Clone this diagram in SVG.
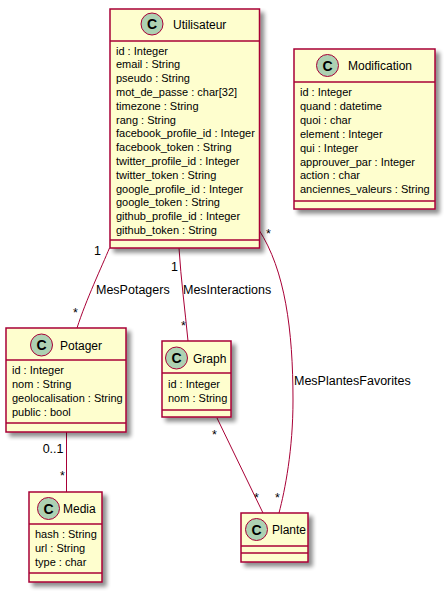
<svg xmlns="http://www.w3.org/2000/svg" width="445" height="591" viewBox="0 0 445 591">
<style>
.box{fill:#FEFECE;stroke:#A80036;stroke-width:1.5}
.sep{stroke:#A80036;stroke-width:1.5}
.circ{fill:#ADD1B2;stroke:#A80036;stroke-width:1}
.c{font-family:"Liberation Sans",Arial,sans-serif;font-size:14px;font-weight:bold;fill:#000;text-anchor:middle}
.title{font-family:"Liberation Sans",Arial,sans-serif;font-size:12px;fill:#000}
.attr{font-family:"Liberation Sans",Arial,sans-serif;font-size:11px;fill:#000}
.lbl{font-family:"Liberation Sans",Arial,sans-serif;font-size:12.5px;fill:#000}
.link{fill:none;stroke:#A80036;stroke-width:1}
</style>
<defs>
<filter id="sh" x="-10%" y="-10%" width="130%" height="130%">
<feGaussianBlur in="SourceAlpha" stdDeviation="2"/>
<feOffset dx="4" dy="4" result="b"/>
<feComponentTransfer><feFuncA type="linear" slope="0.45"/></feComponentTransfer>
<feMerge><feMergeNode/><feMergeNode in="SourceGraphic"/></feMerge>
</filter>
</defs>
<g id="connectors">
<path class="link" d="M109.5,248 C102,266 86,300 77,328"/>
<path class="link" d="M179,248 C181,280 185,310 188,341"/>
<path class="link" d="M259,230 C285,270 293,330 293,400 C293,450 285,490 279,513"/>
<path class="link" d="M66.5,432 L66.5,492"/>
<path class="link" d="M217,418 L263,513"/>
<text class="lbl" x="94" y="255">1</text>
<text class="lbl" x="96" y="294">MesPotagers</text>
<text class="lbl" x="73" y="317">*</text>
<text class="lbl" x="171" y="271">1</text>
<text class="lbl" x="183" y="294">MesInteractions</text>
<text class="lbl" x="181" y="330">*</text>
<text class="lbl" x="266" y="238">*</text>
<text class="lbl" x="294" y="385">MesPlantesFavorites</text>
<text class="lbl" x="275" y="502">*</text>
<text class="lbl" x="63.5" y="453" text-anchor="end">0..1</text>
<text class="lbl" x="60" y="480">*</text>
<text class="lbl" x="212" y="439">*</text>
<text class="lbl" x="254" y="502">*</text>
</g>
<g id="Utilisateur">
<rect class="box" x="110" y="9" width="149.5" height="239" filter="url(#sh)"/>
<line class="sep" x1="110" y1="41" x2="259.5" y2="41"/>
<line class="sep" x1="110" y1="240" x2="259.5" y2="240"/>
<circle class="circ" cx="152" cy="24" r="11"/>
<text class="c" x="152" y="29">C</text>
<text class="title" x="173" y="29">Utilisateur</text>
<text class="attr" x="116" y="54.5">id : Integer</text>
<text class="attr" x="116" y="68.3">email : String</text>
<text class="attr" x="116" y="82.1">pseudo : String</text>
<text class="attr" x="116" y="95.9">mot_de_passe : char[32]</text>
<text class="attr" x="116" y="109.7">timezone : String</text>
<text class="attr" x="116" y="123.5">rang : String</text>
<text class="attr" x="116" y="137.3">facebook_profile_id : Integer</text>
<text class="attr" x="116" y="151.1">facebook_token : String</text>
<text class="attr" x="116" y="164.9">twitter_profile_id : Integer</text>
<text class="attr" x="116" y="178.7">twitter_token : String</text>
<text class="attr" x="116" y="192.5">google_profile_id : Integer</text>
<text class="attr" x="116" y="206.3">google_token : String</text>
<text class="attr" x="116" y="220.1">github_profile_id : Integer</text>
<text class="attr" x="116" y="233.9">github_token : String</text>
</g>
<g id="Modification">
<rect class="box" x="294" y="49" width="141" height="160" filter="url(#sh)"/>
<line class="sep" x1="294" y1="82" x2="435" y2="82"/>
<line class="sep" x1="294" y1="201" x2="435" y2="201"/>
<circle class="circ" cx="327.5" cy="65.5" r="11"/>
<text class="c" x="327.5" y="70.5">C</text>
<text class="title" x="348" y="70">Modification</text>
<text class="attr" x="300" y="96">id : Integer</text>
<text class="attr" x="300" y="109.9">quand : datetime</text>
<text class="attr" x="300" y="123.8">quoi : char</text>
<text class="attr" x="300" y="137.7">element : Integer</text>
<text class="attr" x="300" y="151.6">qui : Integer</text>
<text class="attr" x="300" y="165.5">approuver_par : Integer</text>
<text class="attr" x="300" y="179.4">action : char</text>
<text class="attr" x="300" y="193.3">anciennes_valeurs : String</text>
</g>
<g id="Potager">
<rect class="box" x="6" y="328" width="120" height="104" filter="url(#sh)"/>
<line class="sep" x1="6" y1="360" x2="126" y2="360"/>
<line class="sep" x1="6" y1="423" x2="126" y2="423"/>
<circle class="circ" cx="41.5" cy="345" r="11"/>
<text class="c" x="41.5" y="350">C</text>
<text class="title" x="60" y="350">Potager</text>
<text class="attr" x="12" y="374">id : Integer</text>
<text class="attr" x="12" y="388">nom : String</text>
<text class="attr" x="12" y="402">geolocalisation : String</text>
<text class="attr" x="12" y="416">public : bool</text>
</g>
<g id="Graph">
<rect class="box" x="162" y="341" width="69" height="76" filter="url(#sh)"/>
<line class="sep" x1="162" y1="373" x2="231" y2="373"/>
<line class="sep" x1="162" y1="410" x2="231" y2="410"/>
<circle class="circ" cx="176.5" cy="358" r="11"/>
<text class="c" x="176.5" y="363">C</text>
<text class="title" x="193" y="363">Graph</text>
<text class="attr" x="168" y="388">id : Integer</text>
<text class="attr" x="168" y="402">nom : String</text>
</g>
<g id="Media">
<rect class="box" x="29" y="492" width="73" height="90" filter="url(#sh)"/>
<line class="sep" x1="29" y1="524" x2="102" y2="524"/>
<line class="sep" x1="29" y1="573" x2="102" y2="573"/>
<circle class="circ" cx="48.5" cy="508.5" r="11"/>
<text class="c" x="48.5" y="513.5">C</text>
<text class="title" x="63" y="513">Media</text>
<text class="attr" x="35" y="538">hash : String</text>
<text class="attr" x="35" y="552">url : String</text>
<text class="attr" x="35" y="566">type : char</text>
</g>
<g id="Plante">
<rect class="box" x="241" y="513" width="67" height="49" filter="url(#sh)"/>
<line class="sep" x1="241" y1="546" x2="308" y2="546"/>
<line class="sep" x1="241" y1="553" x2="308" y2="553"/>
<circle class="circ" cx="256.5" cy="529.5" r="11"/>
<text class="c" x="256.5" y="534.5">C</text>
<text class="title" x="272" y="534">Plante</text>
</g>
</svg>
